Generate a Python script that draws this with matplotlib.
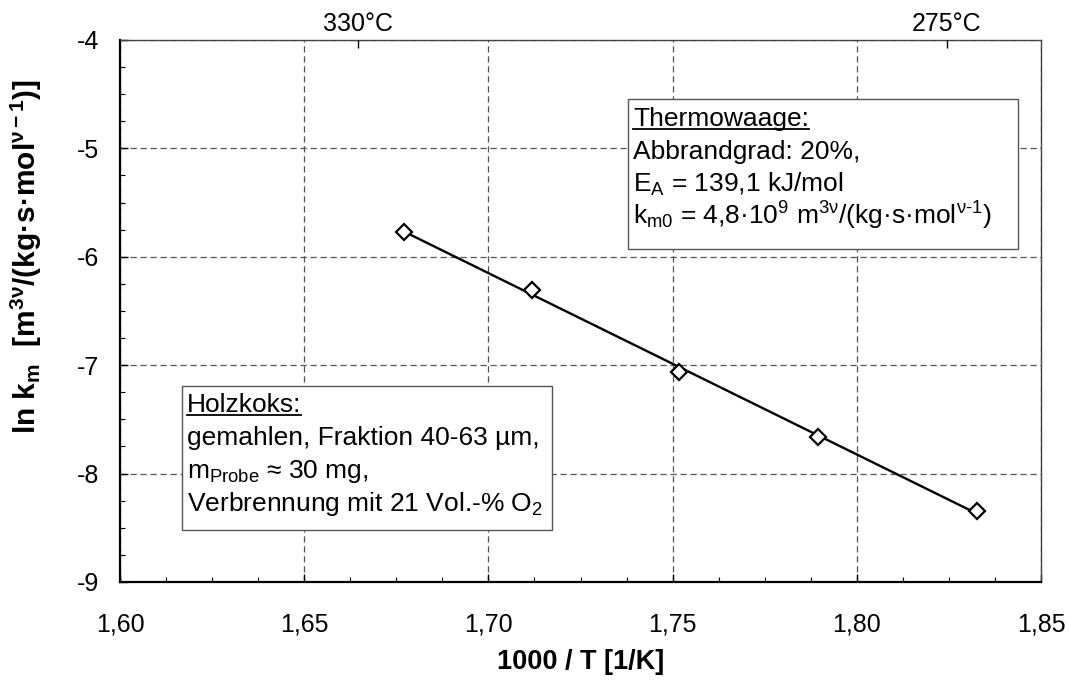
import numpy as np
import matplotlib
matplotlib.use("Agg")
import matplotlib.pyplot as plt
from matplotlib.ticker import FixedLocator, MultipleLocator, FuncFormatter
from matplotlib.patches import Rectangle
from matplotlib.lines import Line2D

plt.rcParams["font.family"] = ["Liberation Sans", "DejaVu Sans"]
plt.rcParams["mathtext.fontset"] = "custom"
plt.rcParams["mathtext.rm"] = "Liberation Sans"
plt.rcParams["mathtext.it"] = "Liberation Sans:italic"
plt.rcParams["mathtext.bf"] = "Liberation Sans:bold"
plt.rcParams["axes.unicode_minus"] = False

# Messwerte (Arrhenius-Auftragung)
inv_T = [1.6771, 1.7118, 1.7517, 1.7895, 1.8326]
ln_km = [-5.771, -6.306, -7.063, -7.662, -8.345]

# Temperaturmarken an der oberen Achse
temp_pos = [1.6646, 1.8244]
temp_labels = ["330°C", "275°C"]

x_ticks = [1.60, 1.65, 1.70, 1.75, 1.80, 1.85]
y_ticks = [-9, -8, -7, -6, -5, -4]

W, H = 1069, 684
fig = plt.figure(figsize=(W / 100, H / 100), dpi=100)
L, R, T, B = 120, 1041, 40, 582
ax = fig.add_axes([L / W, 1 - B / H, (R - L) / W, (B - T) / H])

# Regressionsgerade durch die Messpunkte
slope, icpt = np.polyfit(inv_T, ln_km, 1)
xf = np.array([inv_T[0], inv_T[-1]])
ax.plot(xf, slope * xf + icpt, color="black", lw=1.7, zorder=3)
ax.plot(inv_T, ln_km, ls="none", marker="D", ms=8.5, mfc="white",
        mec="black", mew=1.6, zorder=4)

ax.set_xlim(1.60, 1.85)
ax.set_ylim(-9, -4)
ax.xaxis.set_major_locator(FixedLocator(x_ticks))
ax.xaxis.set_minor_locator(MultipleLocator(0.0125))
ax.yaxis.set_major_locator(FixedLocator(y_ticks))
ax.yaxis.set_minor_locator(MultipleLocator(0.25))
ax.xaxis.set_major_formatter(FuncFormatter(lambda v, p: f"{v:.2f}".replace(".", ",")))
ax.yaxis.set_major_formatter(FuncFormatter(lambda v, p: f"{int(round(v))}"))
ax.tick_params(which="major", direction="in", length=6, width=1, labelsize=18,
               top=False, right=False)
ax.tick_params(which="minor", direction="in", length=3.5, width=0.8,
               top=False, right=False)
ax.tick_params(axis="x", pad=22)
ax.tick_params(axis="y", pad=15)
ax.grid(True, which="major", ls=(0, (5, 3)), color="#555555", lw=0.9)

for s in ["left", "bottom"]:
    ax.spines[s].set_linewidth(1.6)
for s in ["top", "right"]:
    ax.spines[s].set_linewidth(1.0)
    ax.spines[s].set_color("#444444")

ax.set_xlabel("1000 / T [1/K]", fontsize=19.5, fontweight="bold", labelpad=9)
ax.set_ylabel(r"ln k$_{\mathbf{m}}$  [m$^{\mathbf{3ν}}$/(kg·s·mol$^{\mathbf{ν−1}}$)]",
              fontsize=21.5, fontweight="bold")
ax.yaxis.set_label_coords(-0.082, 0.6)

# obere Achse mit Temperaturangaben
ax2 = ax.twiny()
ax2.set_xlim(ax.get_xlim())
ax2.set_xticks(temp_pos)
ax2.set_xticklabels(temp_labels)
ax2.tick_params(direction="in", length=6, width=1, labelsize=18, pad=3)
for s in ax2.spines.values():
    s.set_visible(False)


def px(x, y):
    return ((x - L) / (R - L), (B - y) / (B - T))


def text_box(x0, y0, x1, y1, lines, tx, baselines):
    rx, ry = px(x0, y1)
    rw = (x1 - x0) / (R - L)
    rh = (y1 - y0) / (B - T)
    ax.add_patch(Rectangle((rx, ry), rw, rh, transform=ax.transAxes,
                           facecolor="white", edgecolor="#555555", lw=1.0, zorder=5))
    arts = []
    for s, yb in zip(lines, baselines):
        arts.append(ax.text(*px(tx, yb), s, transform=ax.transAxes, fontsize=19,
                            va="baseline", ha="left", zorder=6))
    return arts


box1 = text_box(628, 99, 1018, 249,
                ["Thermowaage:", "Abbrandgrad: 20%,",
                 r"E$_{\mathregular{A}}$ = 139,1 kJ/mol",
                 r"k$_{\mathregular{m0}}$ = 4,8·10$^{\mathregular{9}}$ m$^{\mathregular{3ν}}$/(kg·s·mol$^{\mathregular{ν\text{-}1}}$)"],
                633, [126, 159, 192, 225])
box2 = text_box(182, 386, 552, 530,
                ["Holzkoks:", "gemahlen, Fraktion 40-63 µm,",
                 r"m$_{\mathregular{Probe}}$ ≈ 30 mg,",
                 r"Verbrennung mit 21 Vol.-% O$_{\mathregular{2}}$"],
                187, [412, 445, 478, 511])

# Überschriften der Textfelder unterstreichen
fig.canvas.draw()
rend = fig.canvas.get_renderer()
inv = ax.transAxes.inverted()
for t in [box1[0], box2[0]]:
    bb = t.get_window_extent(rend)
    (xa, _), (xb, _) = inv.transform([(bb.x0, 0), (bb.x1, 0)])
    ybase = t.get_position()[1] - 3.0 / (B - T)
    ax.add_line(Line2D([xa, xb], [ybase, ybase], transform=ax.transAxes,
                       color="black", lw=1.3, zorder=6))

fig.savefig("out.png", dpi=100)
